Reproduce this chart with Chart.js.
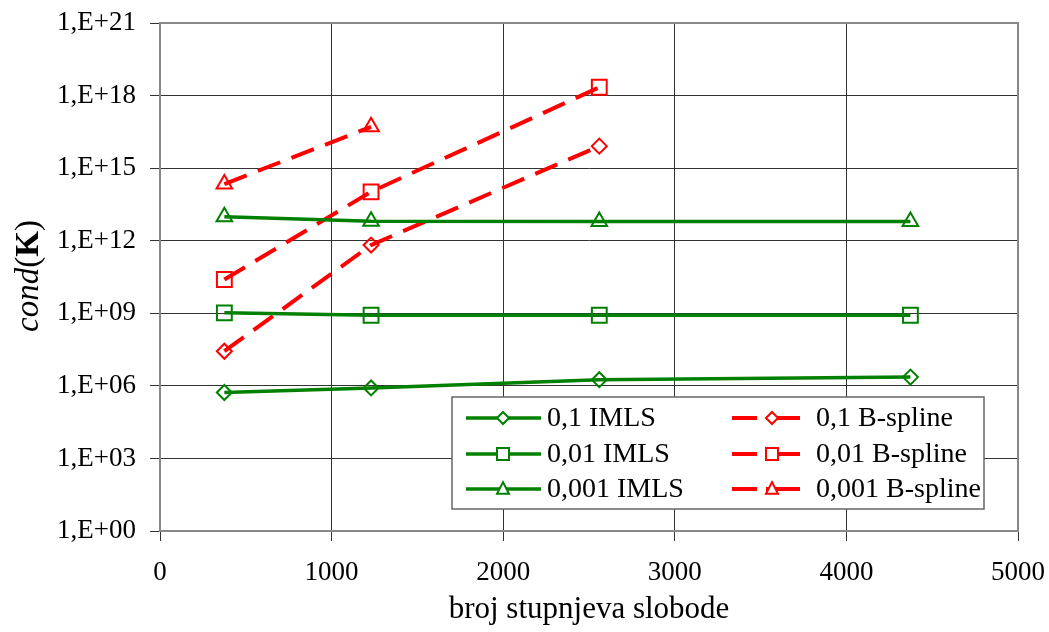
<!DOCTYPE html>
<html lang="hr">
<head>
<meta charset="UTF-8">
<title>cond(K)</title>
<script src="https://cdn.jsdelivr.net/npm/chart.js"></script>
<style>
  body { margin: 0; background: #fff; }
  #wrap { width: 1049px; height: 632px; }
</style>
</head>
<body>
<div id="wrap"><canvas id="myChart" width="1049" height="632"></canvas></div>
<script>
// broj stupnjeva slobode (x) for each measured mesh
const dofs = [375, 1230, 2560, 4373];

// cond(K) values, IMLS
const imls01 = [5.3e5, 8.2e5, 1.8e6, 2.3e6];
const imls001 = [1.04e9, 8.3e8, 8.3e8, 8.3e8];
const imls0001 = [9.7e12, 6.4e12, 6.3e12, 6.3e12];

// cond(K) values, B-spline
const bsp01 = [2.7e7, 6.6e11, 8.1e15];
const bsp001 = [2.5e10, 1.05e14, 2.2e18];
const bsp0001 = [2.2e14, 5.1e16];

const yTicks = [1e0, 1e3, 1e6, 1e9, 1e12, 1e15, 1e18, 1e21];

const GREEN = '#008000';
const RED = '#ff0000';
const FONT = '"Liberation Serif", "Times New Roman", serif';

function pts(vals) {
  return vals.map((v, i) => ({ x: dofs[i], y: v }));
}

function series(label, vals, color, shape, dashed) {
  return {
    label: label,
    data: pts(vals),
    borderColor: color,
    borderWidth: dashed ? 4 : 3.5,
    borderDash: dashed ? [24, 12] : [],
    pointStyle: shape,
    pointRadius: shape == 'rect' ? 10.5 : (shape == 'triangle' ? 9 : 7.5),
    pointBorderWidth: 2,
    pointBorderColor: color,
    pointBackgroundColor: 'rgba(0,0,0,0)',
    showLine: true,
    fill: false,
    tension: 0
  };
}

const datasets = [
  series('0,1 IMLS', imls01, GREEN, 'rectRot', false),
  series('0,01 IMLS', imls001, GREEN, 'rect', false),
  series('0,001 IMLS', imls0001, GREEN, 'triangle', false),
  series('0,1 B-spline', bsp01, RED, 'rectRot', true),
  series('0,01 B-spline', bsp001, RED, 'rect', true),
  series('0,001 B-spline', bsp0001, RED, 'triangle', true)
];

// small marker drawer for the legend box
function marker(ctx, shape, x, y, r) {
  ctx.beginPath();
  if (shape == 'rectRot') {
    ctx.moveTo(x, y - r); ctx.lineTo(x + r, y); ctx.lineTo(x, y + r); ctx.lineTo(x - r, y);
  } else if (shape == 'rect') {
    ctx.rect(x - r, y - r, 2 * r, 2 * r);
  } else {
    ctx.moveTo(x, y - r * 1.15); ctx.lineTo(x + r, y + r * 0.8); ctx.lineTo(x - r, y + r * 0.8);
  }
  ctx.closePath();
  ctx.fillStyle = '#fff';
  ctx.fill();
  ctx.stroke();
}

// grey frame round the plot area
const plotFrame = {
  id: 'plotFrame',
  beforeDatasetsDraw(chart) {
    const a = chart.chartArea;
    const ctx = chart.ctx;
    ctx.save();
    ctx.strokeStyle = '#888';
    ctx.lineWidth = 2;
    ctx.strokeRect(a.left, a.top, a.right - a.left, a.bottom - a.top);
    ctx.restore();
  }
};

const boxLegend = {
  id: 'boxLegend',
  afterDraw(chart) {
    const ctx = chart.ctx;
    ctx.save();
    // box
    ctx.fillStyle = '#fff';
    ctx.fillRect(452, 397, 532, 112);
    ctx.strokeStyle = '#666';
    ctx.lineWidth = 1.5;
    ctx.strokeRect(452, 397, 532, 112);
    const rows = [418, 454, 489];
    const cols = [{ x0: 466, x1: 541, mx: 503, tx: 547 }, { x0: 732, x1: 800, mx: 772, tx: 816 }];
    chart.data.datasets.forEach((ds, i) => {
      const c = cols[Math.floor(i / 3)];
      const y = rows[i % 3];
      ctx.strokeStyle = ds.borderColor;
      ctx.lineWidth = ds.borderWidth;
      ctx.setLineDash([]);
      ctx.beginPath();
      if (ds.borderDash.length) {
        ctx.moveTo(c.x0, y); ctx.lineTo(c.x0 + 25, y);
        ctx.moveTo(c.mx - 6, y); ctx.lineTo(c.x1, y);
      } else {
        ctx.moveTo(c.x0, y); ctx.lineTo(c.x1, y);
      }
      ctx.stroke();
      ctx.lineWidth = 2;
      marker(ctx, ds.pointStyle, c.mx, y, 6);
      ctx.fillStyle = '#000';
      ctx.font = '28px ' + FONT;
      ctx.textBaseline = 'middle';
      ctx.textAlign = 'left';
      ctx.fillText(ds.label, c.tx, y + 1);
    });
    // y axis title: cond(K)
    ctx.translate(29, 276);
    ctx.rotate(-Math.PI / 2);
    ctx.fillStyle = '#000';
    ctx.textBaseline = 'middle';
    const parts = [['italic 33px ', 'cond'], ['33px ', '('], ['bold 33px ', 'K'], ['33px ', ')']];
    let w = 0;
    parts.forEach(p => { ctx.font = p[0] + FONT; w += ctx.measureText(p[1]).width; });
    let x = -w / 2;
    ctx.textAlign = 'left';
    parts.forEach(p => {
      ctx.font = p[0] + FONT;
      ctx.fillText(p[1], x, 0);
      x += ctx.measureText(p[1]).width;
    });
    ctx.restore();
  }
};

new Chart(document.getElementById('myChart'), {
  type: 'scatter',
  data: { datasets: datasets },
  plugins: [plotFrame, boxLegend],
  options: {
    responsive: false,
    animation: false,
    layout: { padding: { top: 23, right: 31, left: 0, bottom: 0 } },
    plugins: {
      legend: { display: false },
      tooltip: { enabled: false }
    },
    scales: {
      x: {
        type: 'linear',
        min: 0,
        max: 5000,
        afterFit: (s) => { s.height = 101; s.paddingLeft = 0; s.paddingRight = 0; },
        border: { color: '#888', width: 2 },
        grid: { color: '#333', lineWidth: 1, tickLength: 10, tickColor: '#333' },
        ticks: {
          stepSize: 1000, padding: 16, color: '#000', font: { family: FONT, size: 27 },
          callback: (v) => String(v)
        },
        title: { display: true, text: 'broj stupnjeva slobode', color: '#000', padding: { top: 0 }, font: { family: FONT, size: 31 } }
      },
      y: {
        type: 'logarithmic',
        min: 1,
        max: 1e21,
        afterFit: (s) => { s.width = 160; s.paddingTop = 0; s.paddingBottom = 0; },
        afterBuildTicks: (s) => { s.ticks = yTicks.map(v => ({ value: v })); },
        border: { color: '#888', width: 2 },
        grid: { color: '#333', lineWidth: 1, tickLength: 10, tickColor: '#333' },
        ticks: {
          padding: 14,
          color: '#000',
          font: { family: FONT, size: 27 },
          callback: (v) => {
            const e = Math.round(Math.log10(v));
            return '1,E+' + (e < 10 ? '0' + e : e);
          }
        }
      }
    }
  }
});
</script>
</body>
</html>
